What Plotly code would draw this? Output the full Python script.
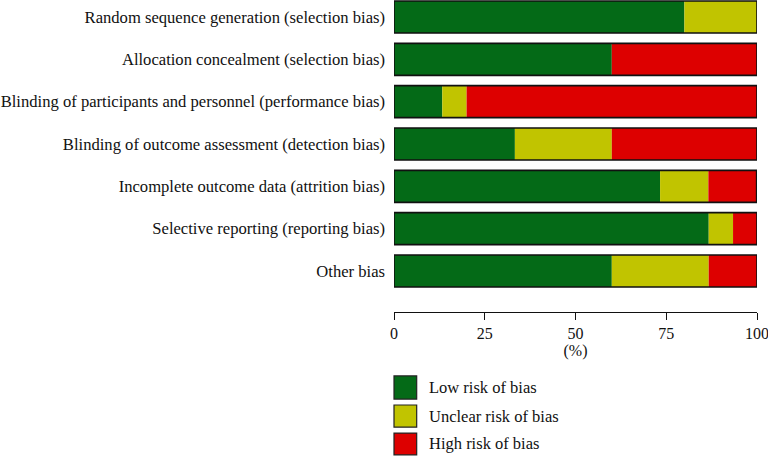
import plotly.graph_objects as go

categories = [
    "Random sequence generation (selection bias)",
    "Allocation concealment (selection bias)",
    "Blinding of participants and personnel (performance bias)",
    "Blinding of outcome assessment (detection bias)",
    "Incomplete outcome data (attrition bias)",
    "Selective reporting (reporting bias)",
    "Other bias",
]
low_risk = [80.0, 60.0, 13.3, 33.3, 73.3, 86.7, 60.0]
unclear_risk = [20.0, 0.0, 6.7, 26.7, 13.3, 6.7, 26.7]
high_risk = [0.0, 40.0, 80.0, 40.0, 13.3, 6.6, 13.3]
series_names = ["Low risk of bias", "Unclear risk of bias", "High risk of bias"]
tick_vals = [0, 25, 50, 75, 100]

colors = ["#046A17", "#C1C400", "#DD0000"]
FONT = "Liberation Serif"

base_unclear = low_risk
base_high = [a + b for a, b in zip(low_risk, unclear_risk)]
totals = [a + b + c for a, b, c in zip(low_risk, unclear_risk, high_risk)]

ypos = list(range(len(categories)))
fig = go.Figure()
for vals, base, col, name in [
    (low_risk, [0] * len(categories), colors[0], series_names[0]),
    (unclear_risk, base_unclear, colors[1], series_names[1]),
    (high_risk, base_high, colors[2], series_names[2]),
]:
    fig.add_trace(go.Bar(
        y=ypos, x=vals, base=base, orientation="h", name=name,
        marker=dict(color=col, line=dict(width=0)), width=0.756,
        showlegend=False, hoverinfo="x+name",
    ))
# outline of each full bar
fig.add_trace(go.Bar(
    y=ypos, x=totals, base=[0] * len(categories), orientation="h",
    marker=dict(color="rgba(0,0,0,0)", line=dict(color="#111", width=1.6)),
    width=0.756, showlegend=False, hoverinfo="skip",
))

# legend drawn as boxes + labels below the axis
shapes = []
annotations = []
legend_boxes = [(-0.205, -0.279), (-0.298, -0.369), (-0.388, -0.458)]
for (y0, y1), col, name in zip(legend_boxes, colors, series_names):
    shapes.append(dict(type="rect", xref="paper", yref="paper",
                       x0=0.0, x1=0.0625, y0=y1, y1=y0,
                       fillcolor=col, line=dict(color="#222", width=1.2)))
    annotations.append(dict(xref="paper", yref="paper", x=0.092, y=(y0 + y1) / 2,
                            text=name, showarrow=False, xanchor="left", yanchor="middle",
                            font=dict(family=FONT, size=16.5, color="#111")))

fig.update_layout(
    barmode="overlay",
    width=768, height=457,
    margin=dict(l=394, r=11, t=0, b=145),
    paper_bgcolor="white", plot_bgcolor="white",
    shapes=shapes, annotations=annotations,
    font=dict(family=FONT, size=16, color="#111"),
    xaxis=dict(
        range=[0, 100], tickvals=tick_vals, ticktext=[str(v) for v in tick_vals],
        showgrid=False, zeroline=False, showline=True, linecolor="#111", linewidth=1,
        ticks="outside", ticklen=7, tickcolor="#111", tickwidth=1,
        tickfont=dict(family=FONT, size=16, color="#111"),
        ticklabeloverflow="allow",
        title=dict(text="(%)", font=dict(family=FONT, size=16, color="#111"), standoff=1),
        fixedrange=True,
    ),
    yaxis=dict(
        range=[6.969, -0.402], tickvals=ypos, ticktext=categories,
        showgrid=False, zeroline=False, showline=False, ticks="",
        ticklabelstandoff=8,
        tickfont=dict(family=FONT, size=16.6, color="#111"),
        fixedrange=True,
    ),
)

fig.write_html("out.html", config={"displayModeBar": False},
               post_script="document.body.style.margin='0';document.body.style.padding='0';")
